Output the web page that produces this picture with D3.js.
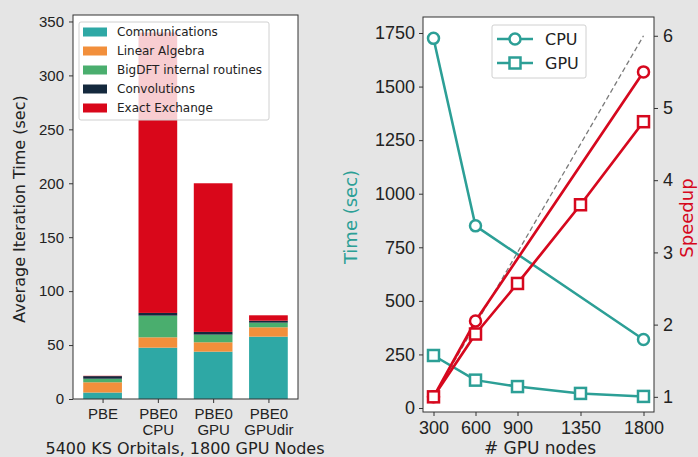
<!DOCTYPE html>
<html>
<head>
<meta charset="utf-8">
<script src="https://cdn.jsdelivr.net/npm/d3@7"></script>
<style>
  body { margin: 0; background: #e5e5e5; }
  svg { display: block; font-family: "DejaVu Sans", sans-serif; }
</style>
</head>
<body>
<svg id="chart" width="698" height="457"></svg>
<script>
// ---- left panel: stacked bars
const runs = ["PBE", "PBE0\nCPU", "PBE0\nGPU", "PBE0\nGPUdir"];
const parts = ["Communications", "Linear Algebra", "BigDFT internal routines", "Convolutions", "Exact Exchange"];
const communications = [6, 47.6, 43.9, 57.8];
const linearAlgebra = [9.5, 9.6, 8.7, 8.7];
const bigdftRoutines = [3.3, 20.1, 7.1, 4.3];
const convolutions = [2.4, 2.5, 2.5, 1.8];
const exactExchange = [0.3, 260, 137.8, 5];
const barTicks = [0, 50, 100, 150, 200, 250, 300, 350];

// ---- right panel: scaling
const cpuNodes = [300, 600, 1800];
const gpuNodes = [300, 600, 900, 1350, 1800];
const cpuTime = [1725, 850, 320];
const gpuTime = [245, 130, 100, 68, 54];
const cpuSpeedup = [1, 2.05, 5.5];
const gpuSpeedup = [1, 1.87, 2.57, 3.66, 4.81];
const idealNodes = [300, 1800];
const idealSpeedup = [1, 6];
const nodeTicks = [300, 600, 900, 1350, 1800];
const timeTicks = [0, 250, 500, 750, 1000, 1250, 1500, 1750];
const speedupTicks = [1, 2, 3, 4, 5, 6];

const partColours = ["#2ea8a5", "#f28f3b", "#4aae6e", "#14293d", "#d9071a"];
const teal = "#2c9f96";
const red = "#d6081e";

const svg = d3.select("#chart");

function styleAxis(g, size) {
  g.select(".domain").remove();
  g.selectAll(".tick line").attr("stroke", "#333");
  g.selectAll(".tick text").attr("fill", "#222").style("font-size", size + "px");
}

// ================= left =================
const L = {left: 73, right: 298, top: 15, bottom: 399};
const bx = d3.scaleLinear().domain([-0.535, 3.535]).range([L.left, L.right]);
const by = d3.scaleLinear().domain([0, 356]).range([L.bottom, L.top]);

svg.append("rect")
  .attr("x", L.left).attr("y", L.top)
  .attr("width", L.right - L.left).attr("height", L.bottom - L.top)
  .attr("fill", "#fff");

const rows = runs.map((r, i) => {
  const o = {run: i};
  o[parts[0]] = communications[i];
  o[parts[1]] = linearAlgebra[i];
  o[parts[2]] = bigdftRoutines[i];
  o[parts[3]] = convolutions[i];
  o[parts[4]] = exactExchange[i];
  return o;
});
const stacked = d3.stack().keys(parts)(rows);

svg.append("g").selectAll("g")
  .data(stacked)
  .join("g")
  .attr("fill", (d, i) => partColours[i])
  .selectAll("rect")
  .data(d => d)
  .join("rect")
  .attr("x", d => bx(d.data.run - 0.35))
  .attr("width", bx(0.7) - bx(0))
  .attr("y", d => by(d[1]))
  .attr("height", d => by(d[0]) - by(d[1]));

const byAxis = svg.append("g")
  .attr("transform", `translate(${L.left},0)`)
  .call(d3.axisLeft(by).tickValues(barTicks).tickSize(4).tickPadding(5).tickFormat(d3.format("d")));
styleAxis(byAxis, 15);

const bxAxis = svg.append("g")
  .attr("transform", `translate(0,${L.bottom})`)
  .call(d3.axisBottom(bx).tickValues(d3.range(runs.length)).tickSize(4).tickPadding(5).tickFormat(""));
styleAxis(bxAxis, 15);
bxAxis.selectAll(".tick").append("text")
  .attr("fill", "#222").attr("text-anchor", "middle")
  .style("font-size", "15px")
  .selectAll("tspan")
  .data(d => runs[d].split("\n"))
  .join("tspan")
  .attr("x", 0)
  .attr("y", (d, i) => 20 + i * 16)
  .text(d => d);

svg.append("rect")
  .attr("x", L.left).attr("y", L.top)
  .attr("width", L.right - L.left).attr("height", L.bottom - L.top)
  .attr("fill", "none").attr("stroke", "#333").attr("stroke-width", 1);

svg.append("text")
  .attr("transform", `translate(25,${(L.top + L.bottom) / 2 + 2}) rotate(-90)`)
  .attr("text-anchor", "middle").attr("fill", "#222")
  .style("font-size", "16px")
  .text("Average Iteration Time (sec)");

svg.append("text")
  .attr("x", 185).attr("y", 454)
  .attr("text-anchor", "middle").attr("fill", "#222")
  .style("font-size", "16px")
  .text("5400 KS Orbitals, 1800 GPU Nodes");

// legend
const bleg = svg.append("g").attr("transform", "translate(79,22)");
bleg.append("rect")
  .attr("width", 190).attr("height", 98).attr("rx", 2)
  .attr("fill", "#fff").attr("fill-opacity", 0.8)
  .attr("stroke", "#d0d0d0");
parts.forEach((p, i) => {
  const gy = 10 + i * 19;
  bleg.append("rect")
    .attr("x", 4).attr("y", gy - 4.5)
    .attr("width", 24).attr("height", 9)
    .attr("fill", partColours[i]);
  bleg.append("text")
    .attr("x", 38).attr("y", gy)
    .attr("dy", "0.36em").attr("fill", "#222")
    .style("font-size", "12px")
    .text(p);
});

// ================= right =================
const R = {left: 423, right: 654, top: 17, bottom: 412};
const nx = d3.scaleLinear().domain([225, 1875]).range([R.left, R.right]);
const ty = d3.scaleLinear().domain([-18.7, 1824.7]).range([R.bottom, R.top]);
const sy = d3.scaleLinear().domain([0.79, 6.26]).range([R.bottom, R.top]);

svg.append("rect")
  .attr("x", R.left).attr("y", R.top)
  .attr("width", R.right - R.left).attr("height", R.bottom - R.top)
  .attr("fill", "#fff");

function series(xs, ys, yScale, colour, shape, width) {
  const pts = xs.map((x, i) => [nx(x), yScale(ys[i])]);
  const g = svg.append("g");
  g.append("path")
    .attr("d", d3.line()(pts))
    .attr("fill", "none").attr("stroke", colour)
    .attr("stroke-width", width).attr("stroke-linejoin", "round");
  if (shape === "circle") {
    g.selectAll("circle").data(pts).join("circle")
      .attr("cx", d => d[0]).attr("cy", d => d[1]).attr("r", 5.5)
      .attr("fill", "#fff").attr("stroke", colour).attr("stroke-width", 2.5);
  } else if (shape === "square") {
    g.selectAll("rect").data(pts).join("rect")
      .attr("x", d => d[0] - 5.5).attr("y", d => d[1] - 5.5)
      .attr("width", 11).attr("height", 11)
      .attr("fill", "#fff").attr("stroke", colour).attr("stroke-width", 2.5);
  }
  return g;
}

series(cpuNodes, cpuTime, ty, teal, "circle", 2.5);
series(gpuNodes, gpuTime, ty, teal, "square", 2.5);

svg.append("path")
  .attr("d", d3.line()(idealNodes.map((x, i) => [nx(x), sy(idealSpeedup[i])])))
  .attr("fill", "none").attr("stroke", "#7a7a7a")
  .attr("stroke-width", 1.3).attr("stroke-dasharray", "5,3");

series(cpuNodes, cpuSpeedup, sy, red, "circle", 2.7);
series(gpuNodes, gpuSpeedup, sy, red, "square", 2.7);

const tyAxis = svg.append("g")
  .attr("transform", `translate(${R.left},0)`)
  .call(d3.axisLeft(ty).tickValues(timeTicks).tickSize(4).tickPadding(4).tickFormat(d3.format("d")));
styleAxis(tyAxis, 18);

const syAxis = svg.append("g")
  .attr("transform", `translate(${R.right},0)`)
  .call(d3.axisRight(sy).tickValues(speedupTicks).tickSize(4).tickPadding(5).tickFormat(d3.format("d")));
styleAxis(syAxis, 18);

const nxAxis = svg.append("g")
  .attr("transform", `translate(0,${R.bottom})`)
  .call(d3.axisBottom(nx).tickValues(nodeTicks).tickSize(4).tickPadding(5).tickFormat(d3.format("d")));
styleAxis(nxAxis, 18);

svg.append("rect")
  .attr("x", R.left).attr("y", R.top)
  .attr("width", R.right - R.left).attr("height", R.bottom - R.top)
  .attr("fill", "none").attr("stroke", "#333").attr("stroke-width", 1);

svg.append("text")
  .attr("transform", `translate(357,217) rotate(-90)`)
  .attr("text-anchor", "middle").attr("fill", teal)
  .style("font-size", "18px")
  .text("Time (sec)");

svg.append("text")
  .attr("transform", `translate(693,218) rotate(-90)`)
  .attr("text-anchor", "middle").attr("fill", red)
  .style("font-size", "18px")
  .text("Speedup");

svg.append("text")
  .attr("x", 540).attr("y", 454)
  .attr("text-anchor", "middle").attr("fill", "#222")
  .style("font-size", "17px")
  .text("# GPU nodes");

// legend
const rleg = svg.append("g").attr("transform", "translate(492,25)");
rleg.append("rect")
  .attr("width", 94).attr("height", 53).attr("rx", 2)
  .attr("fill", "#fff").attr("fill-opacity", 0.8)
  .attr("stroke", "#d0d0d0");
[["CPU", "circle"], ["GPU", "square"]].forEach(([name, shape], i) => {
  const gy = 14 + i * 24;
  rleg.append("line")
    .attr("x1", 5).attr("x2", 41).attr("y1", gy).attr("y2", gy)
    .attr("stroke", teal).attr("stroke-width", 2.5);
  if (shape === "circle") {
    rleg.append("circle").attr("cx", 23).attr("cy", gy).attr("r", 5.5)
      .attr("fill", "#fff").attr("stroke", teal).attr("stroke-width", 2.5);
  } else {
    rleg.append("rect").attr("x", 17.5).attr("y", gy - 5.5)
      .attr("width", 11).attr("height", 11)
      .attr("fill", "#fff").attr("stroke", teal).attr("stroke-width", 2.5);
  }
  rleg.append("text")
    .attr("x", 53).attr("y", gy).attr("dy", "0.36em")
    .attr("fill", "#222").style("font-size", "16px")
    .text(name);
});
</script>
</body>
</html>
